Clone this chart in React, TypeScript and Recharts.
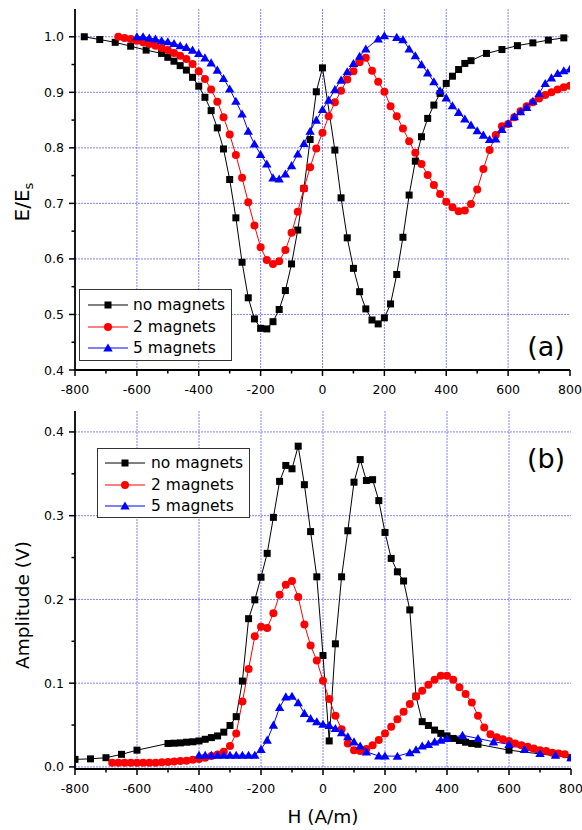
import React from 'react'
import { LineChart, Line, XAxis, YAxis, CartesianGrid, Legend } from 'recharts'

const FONT = '"DejaVu Sans", Verdana, sans-serif'

// panel (a): E/Es vs H
const aNoMagX = [-770, -720, -670, -620, -570, -520, -500, -480, -460, -440, -420, -400, -380, -360, -340, -320, -300, -280, -260, -240, -220, -200, -180, -160, -140, -120, -100, -80, -60, -40, -20, 0, 40, 60, 80, 100, 120, 140, 160, 180, 200, 220, 240, 260, 280, 300, 320, 340, 360, 380, 400, 420, 440, 460, 480, 530, 580, 630, 680, 730, 780]
const aNoMagY = [1.0, 0.995, 0.99, 0.983, 0.976, 0.97, 0.963, 0.956, 0.948, 0.94, 0.927, 0.911, 0.891, 0.867, 0.836, 0.798, 0.743, 0.674, 0.594, 0.53, 0.492, 0.475, 0.474, 0.487, 0.509, 0.543, 0.591, 0.652, 0.727, 0.815, 0.901, 0.944, 0.796, 0.71, 0.638, 0.583, 0.541, 0.51, 0.49, 0.483, 0.494, 0.519, 0.572, 0.639, 0.715, 0.776, 0.82, 0.853, 0.877, 0.898, 0.916, 0.929, 0.941, 0.952, 0.957, 0.97, 0.977, 0.984, 0.989, 0.994, 0.998]

const aTwoMagX = [-660, -640, -620, -600, -580, -560, -540, -520, -500, -480, -460, -440, -420, -400, -380, -360, -340, -320, -300, -280, -260, -240, -220, -200, -180, -160, -140, -120, -100, -80, -60, -40, -20, 0, 20, 40, 60, 80, 100, 120, 140, 160, 180, 200, 220, 240, 260, 280, 300, 320, 340, 360, 380, 400, 420, 440, 460, 480, 500, 520, 540, 560, 580, 600, 620, 640, 660, 680, 700, 720, 740, 760, 780, 800]
const aTwoMagY = [1.0, 0.998, 0.996, 0.993, 0.99, 0.987, 0.984, 0.98, 0.976, 0.971, 0.966, 0.96, 0.951, 0.938, 0.924, 0.905, 0.883, 0.855, 0.824, 0.787, 0.746, 0.702, 0.66, 0.621, 0.598, 0.591, 0.596, 0.616, 0.647, 0.685, 0.727, 0.765, 0.799, 0.827, 0.857, 0.882, 0.903, 0.923, 0.938, 0.954, 0.962, 0.939, 0.919, 0.901, 0.875, 0.857, 0.835, 0.812, 0.791, 0.771, 0.751, 0.733, 0.717, 0.703, 0.693, 0.686, 0.687, 0.699, 0.725, 0.762, 0.796, 0.823, 0.839, 0.843, 0.855, 0.866, 0.875, 0.882, 0.889, 0.895, 0.9, 0.905, 0.909, 0.912]

const aFiveMagX = [-600, -580, -560, -540, -520, -500, -480, -460, -440, -420, -400, -380, -360, -340, -320, -300, -280, -260, -240, -220, -200, -180, -160, -140, -120, -100, -80, -60, -40, -20, 0, 20, 40, 60, 80, 100, 120, 140, 180, 200, 240, 260, 280, 300, 320, 340, 360, 380, 400, 420, 440, 460, 480, 500, 520, 540, 560, 580, 600, 620, 640, 660, 680, 700, 720, 740, 760, 780, 800]
const aFiveMagY = [1.0, 1.0, 0.998, 0.996, 0.993, 0.991, 0.988, 0.984, 0.981, 0.976, 0.97, 0.962, 0.953, 0.94, 0.925, 0.906, 0.884, 0.861, 0.83, 0.807, 0.788, 0.771, 0.746, 0.744, 0.753, 0.768, 0.789, 0.808, 0.83, 0.85, 0.869, 0.886, 0.905, 0.922, 0.937, 0.952, 0.965, 0.978, 0.996, 1.002, 0.999, 0.995, 0.978, 0.966, 0.95, 0.935, 0.919, 0.903, 0.89, 0.876, 0.864, 0.852, 0.841, 0.831, 0.823, 0.815, 0.816, 0.833, 0.844, 0.856, 0.865, 0.873, 0.884, 0.898, 0.916, 0.926, 0.934, 0.939, 0.942]

// panel (b): amplitude vs H
const bNoMagX = [-800, -750, -700, -650, -600, -500, -480, -460, -440, -420, -400, -380, -360, -340, -320, -300, -280, -260, -240, -220, -200, -180, -160, -140, -120, -100, -80, -60, -40, -20, 0, 20, 40, 60, 80, 100, 120, 140, 160, 180, 200, 220, 240, 260, 280, 300, 320, 340, 360, 380, 400, 420, 440, 460, 480, 500, 600, 800]
const bNoMagY = [0.009, 0.0096, 0.011, 0.015, 0.02, 0.028, 0.0283, 0.0287, 0.0295, 0.03, 0.031, 0.033, 0.035, 0.037, 0.0415, 0.0495, 0.06, 0.1025, 0.177, 0.1995, 0.2265, 0.255, 0.298, 0.341, 0.36, 0.356, 0.383, 0.337, 0.281, 0.227, 0.133, 0.031, 0.147, 0.227, 0.282, 0.34, 0.367, 0.342, 0.343, 0.318, 0.28, 0.249, 0.233, 0.222, 0.1875, 0.0845, 0.054, 0.0495, 0.044, 0.04, 0.037, 0.034, 0.0315, 0.0295, 0.028, 0.027, 0.02, 0.011]

const bTwoMagX = [-680, -660, -640, -620, -600, -580, -560, -540, -520, -500, -480, -460, -440, -420, -400, -380, -360, -340, -320, -300, -280, -260, -240, -220, -200, -180, -160, -140, -120, -100, -80, -60, -40, -20, 0, 20, 40, 60, 80, 100, 120, 140, 160, 180, 200, 220, 240, 260, 280, 300, 320, 340, 360, 380, 400, 420, 440, 460, 480, 500, 520, 540, 560, 580, 600, 620, 640, 660, 680, 700, 720, 740, 760, 780]
const bTwoMagY = [0.005, 0.005, 0.005, 0.005, 0.005, 0.005, 0.005, 0.005, 0.0055, 0.006, 0.0065, 0.007, 0.0075, 0.0085, 0.0095, 0.011, 0.013, 0.0148, 0.018, 0.025, 0.04, 0.078, 0.117, 0.156, 0.1675, 0.166, 0.1835, 0.2055, 0.2175, 0.222, 0.203, 0.17, 0.145, 0.127, 0.103, 0.081, 0.061, 0.045, 0.028, 0.02, 0.019, 0.0215, 0.026, 0.032, 0.04, 0.048, 0.057, 0.066, 0.075, 0.084, 0.091, 0.098, 0.104, 0.109, 0.109, 0.104, 0.095, 0.087, 0.077, 0.061, 0.047, 0.039, 0.0355, 0.033, 0.031, 0.028, 0.026, 0.024, 0.022, 0.02, 0.019, 0.017, 0.016, 0.015]

const bFiveMagX = [-400, -380, -360, -340, -320, -300, -280, -260, -240, -220, -200, -180, -160, -140, -120, -100, -80, -60, -40, -20, 0, 20, 40, 60, 80, 100, 120, 140, 180, 200, 240, 280, 300, 320, 340, 360, 380, 400, 450, 500, 550, 600, 650, 700, 750, 800]
const bFiveMagY = [0.014, 0.014, 0.014, 0.014, 0.014, 0.014, 0.014, 0.014, 0.014, 0.014, 0.021, 0.032, 0.05, 0.071, 0.0837, 0.0845, 0.0766, 0.064, 0.0577, 0.054, 0.051, 0.0497, 0.046, 0.041, 0.036, 0.03, 0.025, 0.018, 0.013, 0.013, 0.0128, 0.017, 0.0205, 0.025, 0.027, 0.03, 0.032, 0.034, 0.0377, 0.034, 0.03, 0.027, 0.021, 0.016, 0.014, 0.011]

const seriesNames = ['no magnets', '2 magnets', '5 magnets']
const seriesColors = ['#000000', '#ff0000', '#0000ff']

const xTicks = [-800, -700, -600, -500, -400, -300, -200, -100, 0, 100, 200, 300, 400, 500, 600, 700, 800]
const xGrid = [-600, -400, -200, 0, 200, 400, 600]
const aYTicks = [0.4, 0.45, 0.5, 0.55, 0.6, 0.65, 0.7, 0.75, 0.8, 0.85, 0.9, 0.95, 1.0]
const aYGrid = [0.5, 0.6, 0.7, 0.8, 0.9, 1.0]
const bYTicks = [0, 0.05, 0.1, 0.15, 0.2, 0.25, 0.3, 0.35, 0.4]
const bYGrid = [0, 0.1, 0.2, 0.3, 0.4]

const zip = (xs: number[], ys: number[]) => xs.map((x, i) => ({ x, y: ys[i] }))

const Marker = ({ kind, cx, cy }: { kind: number; cx: number; cy: number }) => {
  if (kind === 0) return <rect x={cx - 3.5} y={cy - 3.5} width={7} height={7} fill="#000" />
  if (kind === 1) return <circle cx={cx} cy={cy} r={4} fill="#ff0000" />
  return <polygon points={`${cx},${cy - 4.5} ${cx - 4.7},${cy + 3.6} ${cx + 4.7},${cy + 3.6}`} fill="#0000ff" />
}

const dotFor = (kind: number) => (p: any) =>
  p.cx == null || p.cy == null ? <g key={p.index} /> : <Marker key={p.index} kind={kind} cx={p.cx} cy={p.cy} />

const XTick = (props: any) => {
  const { x, y, payload } = props
  const v = payload.value
  const major = v % 200 === 0
  return (
    <g>
      <line x1={x} y1={y} x2={x} y2={y + (major ? 6 : 3.5)} stroke="#000" strokeWidth={1.5} />
      {major && (
        <text x={x} y={y + 19} textAnchor="middle" dominantBaseline="central" fontFamily={FONT} fontSize={12.5} fill="#000">
          {v}
        </text>
      )}
    </g>
  )
}

const YTick = (props: any) => {
  const { x, y, payload } = props
  const v = payload.value
  const major = Math.abs(v * 10 - Math.round(v * 10)) < 1e-6
  return (
    <g>
      <line x1={x} y1={y} x2={x - (major ? 6 : 3.5)} y2={y} stroke="#000" strokeWidth={1.5} />
      {major && (
        <text x={x - 11} y={y} textAnchor="end" dominantBaseline="central" fontFamily={FONT} fontSize={12.5} fill="#000">
          {v.toFixed(1)}
        </text>
      )}
    </g>
  )
}

const LegendBox = ({ rowY, lineX, textX }: { rowY: number[]; lineX: number; textX: number }) => (
  <div
    style={{
      width: '100%',
      height: '100%',
      boxSizing: 'border-box',
      border: '1.5px solid #333',
      background: '#fff',
      position: 'relative',
      fontFamily: FONT,
      fontSize: 15.5,
      color: '#000'
    }}
  >
    {seriesNames.map((name, i) => (
      <div key={name} style={{ position: 'absolute', left: 0, top: rowY[i] - 10, height: 20, width: '100%' }}>
        <svg width={textX} height={20} style={{ position: 'absolute', left: 0, top: 0 }}>
          <line x1={lineX} y1={10} x2={lineX + 40} y2={10} stroke={seriesColors[i]} strokeWidth={1} />
          <Marker kind={i} cx={lineX + 20} cy={10} />
        </svg>
        <span style={{ position: 'absolute', left: textX, top: 0, lineHeight: '20px', whiteSpace: 'nowrap' }}>{name}</span>
      </div>
    ))}
  </div>
)

const axisStroke = { stroke: '#000', strokeWidth: 1.8 }

const panels = [
  {
    tag: '(a)',
    height: 400,
    top: 0,
    margin: { top: 9, right: 12, bottom: 0, left: 0 },
    xHeight: 30,
    yDomain: [0.4, 1.05],
    yTicks: aYTicks,
    yGrid: aYGrid,
    series: [zip(aNoMagX, aNoMagY), zip(aTwoMagX, aTwoMagY), zip(aFiveMagX, aFiveMagY)],
    legend: { left: 79, top: 289, width: 153, height: 72, rowY: [15, 36.5, 57.5], lineX: 8, textX: 53 }
  },
  {
    tag: '(b)',
    height: 430,
    top: 400,
    margin: { top: 11, right: 11, bottom: 0, left: 0 },
    xHeight: 61,
    yDomain: [-0.0025, 0.425],
    yTicks: bYTicks,
    yGrid: bYGrid,
    series: [zip(bNoMagX, bNoMagY), zip(bTwoMagX, bTwoMagY), zip(bFiveMagX, bFiveMagY)],
    legend: { left: 97, top: 48, width: 153, height: 70, rowY: [13.7, 35.5, 57], lineX: 7, textX: 53 }
  }
]

const TopYTitle = () => (
  <g>
    <text transform="translate(22,202) rotate(-90)" textAnchor="middle" dominantBaseline="central" fontFamily={FONT} fontSize={20} fill="#000">
      E/E
      <tspan fontSize={13} dy={6}>s</tspan>
    </text>
    <text x={546} y={346} textAnchor="middle" dominantBaseline="central" fontFamily={FONT} fontSize={27} fill="#000">
      (a)
    </text>
  </g>
)

const BottomYTitle = () => (
  <g>
    <text transform="translate(22,205) rotate(-90)" textAnchor="middle" dominantBaseline="central" fontFamily={FONT} fontSize={18.5} fill="#000">
      Amplitude (V)
    </text>
    <text x={546} y={58} textAnchor="middle" dominantBaseline="central" fontFamily={FONT} fontSize={27} fill="#000">
      (b)
    </text>
  </g>
)

const BottomXTitle = () => (
  <text x={323} y={416} textAnchor="middle" dominantBaseline="central" fontFamily={FONT} fontSize={18.5} fill="#000">
    H (A/m)
  </text>
)

const App: React.FC = () => {
  return (
    <div style={{ position: 'absolute', left: 0, top: 0, width: 582, height: 830, background: '#fff' }}>
      {panels.map((p, pi) => (
        <div key={p.tag} style={{ position: 'absolute', left: 0, top: p.top }}>
          <LineChart width={582} height={p.height} margin={p.margin}>
            <CartesianGrid
              horizontalValues={p.yGrid}
              verticalValues={xGrid}
              stroke="#6a6aff"
              strokeOpacity={0.85}
              strokeDasharray="2 1"
              strokeWidth={1}
            />
            <XAxis
              type="number"
              dataKey="x"
              domain={[-800, 800]}
              ticks={xTicks}
              interval={0}
              allowDataOverflow
              height={p.xHeight}
              tickSize={0}
              tickMargin={0}
              tickLine={false}
              tick={<XTick />}
              axisLine={axisStroke}
              label={pi === 1 ? <BottomXTitle /> : undefined}
            />
            <YAxis
              type="number"
              dataKey="y"
              domain={p.yDomain}
              ticks={p.yTicks}
              interval={0}
              allowDataOverflow
              width={75}
              tickSize={0}
              tickMargin={0}
              tickLine={false}
              tick={<YTick />}
              axisLine={axisStroke}
              label={pi === 0 ? <TopYTitle /> : <BottomYTitle />}
            />
            <Legend
              layout="vertical"
              align="center"
              verticalAlign="middle"
              wrapperStyle={{ left: p.legend.left, top: p.legend.top, width: p.legend.width, height: p.legend.height }}
              content={() => <LegendBox rowY={p.legend.rowY} lineX={p.legend.lineX} textX={p.legend.textX} />}
            />
            {p.series.map((data, si) => (
              <Line
                key={seriesNames[si]}
                name={seriesNames[si]}
                data={data}
                dataKey="y"
                type="linear"
                stroke={seriesColors[si]}
                strokeWidth={1}
                dot={dotFor(si)}
                activeDot={false}
                isAnimationActive={false}
              />
            ))}
          </LineChart>
        </div>
      ))}
    </div>
  )
}

export default App
